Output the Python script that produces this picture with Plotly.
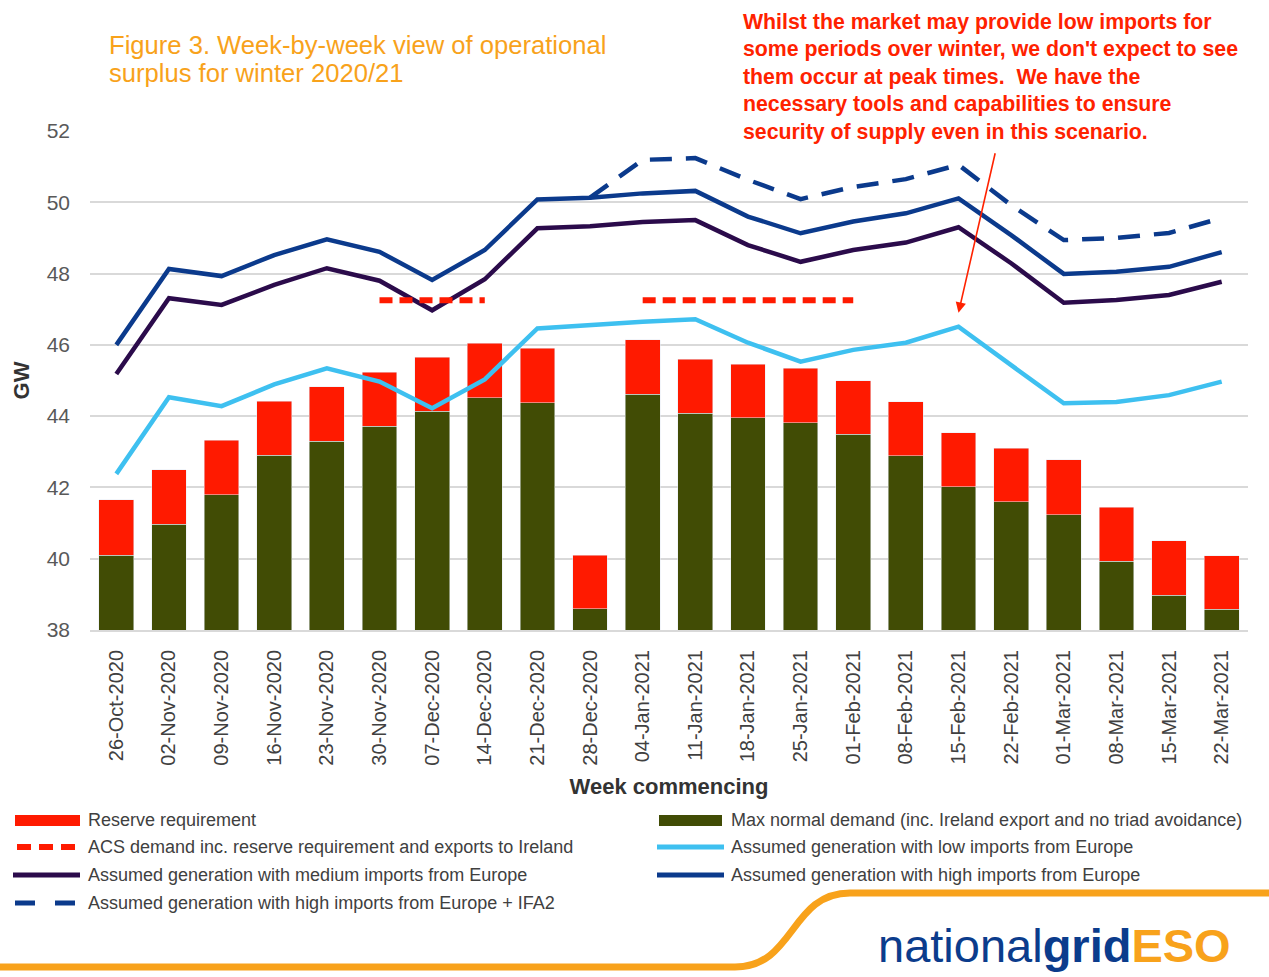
import plotly.graph_objects as go

# ---------------- data ----------------
weeks = ["26-Oct-2020", "02-Nov-2020", "09-Nov-2020", "16-Nov-2020", "23-Nov-2020",
         "30-Nov-2020", "07-Dec-2020", "14-Dec-2020", "21-Dec-2020", "28-Dec-2020",
         "04-Jan-2021", "11-Jan-2021", "18-Jan-2021", "25-Jan-2021", "01-Feb-2021",
         "08-Feb-2021", "15-Feb-2021", "22-Feb-2021", "01-Mar-2021", "08-Mar-2021",
         "15-Mar-2021", "22-Mar-2021"]

max_normal_demand = [40.10, 40.97, 41.80, 42.90, 43.30, 43.72, 44.14, 44.52, 44.38, 38.59,
                     44.61, 44.08, 43.96, 43.82, 43.49, 42.89, 42.02, 41.60, 41.24, 39.93,
                     38.98, 38.58]
reserve_requirement = [1.55, 1.52, 1.53, 1.52, 1.53, 1.51, 1.51, 1.52, 1.52, 1.51,
                       1.53, 1.51, 1.49, 1.52, 1.50, 1.52, 1.52, 1.50, 1.53, 1.51,
                       1.52, 1.50]
acs_demand = [None, None, None, None, None, 47.25, 47.25, 47.25, None, None,
              47.25, 47.25, 47.25, 47.25, 47.25, None, None, None, None, None,
              None, None]
gen_low = [42.38, 44.53, 44.28, 44.89, 45.34, 44.97, 44.22, 45.03, 46.46, 46.56,
           46.65, 46.72, 46.06, 45.53, 45.86, 46.06, 46.51, 45.43, 44.36, 44.40,
           44.59, 44.97]
gen_medium = [45.18, 47.31, 47.12, 47.68, 48.15, 47.80, 46.97, 47.84, 49.27, 49.33,
              49.45, 49.50, 48.80, 48.33, 48.66, 48.87, 49.30, 48.29, 47.18, 47.26,
              47.40, 47.77]
gen_high = [46.00, 48.13, 47.93, 48.52, 48.96, 48.61, 47.82, 48.66, 50.08, 50.13,
            50.25, 50.32, 49.60, 49.13, 49.46, 49.69, 50.11, 49.08, 47.99, 48.05,
            48.19, 48.60]
gen_high_ifa2 = [None, None, None, None, None, None, None, None, None, 50.13,
                 51.19, 51.24, 50.63, 50.09, 50.43, 50.65, 51.05, 49.92, 48.94, 49.00,
                 49.14, 49.56]

y_ticks = [38, 40, 42, 44, 46, 48, 50, 52]

# ---------------- styles ----------------
FONT = "Liberation Sans, Arial, sans-serif"
C_RED = "#FF1A00"
C_GREEN = "#414C05"
C_LOW = "#3EC0F0"
C_MED = "#2B0B4B"
C_HIGH = "#0B3A8C"
C_ORANGE = "#F8A21B"
C_TEXT = "#404040"

W, H = 1269, 977
ML, MR, MT, MB = 90, 21, 131, 347
PW, PH = W - ML - MR, H - MT - MB


def px(X):
    return (X - ML) / PW


def py(Y):
    return (H - MB - Y) / PH


fig = go.Figure()

fig.add_trace(go.Bar(x=weeks, y=max_normal_demand, marker_color=C_GREEN,
                     name="Max normal demand (inc. Ireland export and no triad avoidance)",
                     showlegend=False))
fig.add_trace(go.Bar(x=weeks, y=reserve_requirement, marker_color=C_RED,
                     name="Reserve requirement", showlegend=False))
fig.add_trace(go.Scatter(x=weeks, y=gen_low, mode="lines",
                         line=dict(color=C_LOW, width=4.5),
                         name="Assumed generation with low imports from Europe", showlegend=False))
fig.add_trace(go.Scatter(x=weeks, y=gen_medium, mode="lines",
                         line=dict(color=C_MED, width=4.5),
                         name="Assumed generation with medium imports from Europe", showlegend=False))
fig.add_trace(go.Scatter(x=weeks, y=gen_high, mode="lines",
                         line=dict(color=C_HIGH, width=4.5),
                         name="Assumed generation with high imports from Europe", showlegend=False))
fig.add_trace(go.Scatter(x=weeks, y=gen_high_ifa2, mode="lines",
                         line=dict(color=C_HIGH, width=4.5, dash="22px,14px"),
                         name="Assumed generation with high imports from Europe + IFA2",
                         showlegend=False))
fig.add_trace(go.Scatter(x=weeks, y=acs_demand, mode="lines",
                         line=dict(color=C_RED, width=6, dash="13px,7px"),
                         name="ACS demand inc. reserve requirement and exports to Ireland",
                         showlegend=False))

fig.update_layout(
    width=W, height=H,
    margin=dict(l=ML, r=MR, t=MT, b=MB, pad=0),
    paper_bgcolor="white", plot_bgcolor="white",
    barmode="stack", bargap=0.34,
    font=dict(family=FONT, color=C_TEXT),
    showlegend=False,
)

fig.update_xaxes(
    type="category", tickangle=-90,
    tickfont=dict(size=20, color=C_TEXT, family=FONT),
    showgrid=False, showline=True, linecolor="#D9D9D9", linewidth=2,
    ticks="", ticklabelstandoff=10,
    title=dict(text="<b>Week commencing</b>", font=dict(size=22, color="#333333", family=FONT),
               standoff=14),
)
fig.update_yaxes(
    range=[38, 52], tickvals=y_ticks,
    tickfont=dict(size=21, color="#595959", family=FONT),
    showgrid=True, gridcolor="#D9D9D9", gridwidth=2,
    zeroline=False, ticks="", ticklabelstandoff=19,
    title=dict(text="<b>GW</b>", font=dict(size=22, color="#333333", family=FONT), standoff=10),
)

annotations = []
# Title
for txt, Y in [("Figure 3. Week-by-week view of operational", 45),
               ("surplus for winter 2020/21", 73)]:
    annotations.append(dict(text=txt, xref="paper", yref="paper", x=px(107), y=py(Y),
                            xanchor="left", yanchor="middle", showarrow=False,
                            font=dict(size=25.6, color=C_ORANGE, family=FONT)))
# Red comment
comment = ["Whilst the market may provide low imports for",
           "some periods over winter, we don't expect to see",
           "them occur at peak times.  We have the",
           "necessary tools and capabilities to ensure",
           "security of supply even in this scenario."]
for i, txt in enumerate(comment):
    annotations.append(dict(text="<b>" + txt.replace("  ", "&nbsp; ") + "</b>", xref="paper", yref="paper",
                            x=px(741), y=py(22 + i * 27.4),
                            xanchor="left", yanchor="middle", showarrow=False,
                            font=dict(size=21.3, color="#FF2200", family=FONT)))
# Arrow to the low-imports peak
annotations.append(dict(text="", x=weeks[16], y=46.9, xref="x", yref="y",
                        ax=37, ay=-161, showarrow=True, arrowhead=2, arrowsize=1.3,
                        arrowwidth=1.6, arrowcolor="#FF2200"))

# Manual legend (two columns)
legend_left = [("Reserve requirement", 820),
               ("ACS demand inc. reserve requirement and exports to Ireland", 847),
               ("Assumed generation with medium imports from Europe", 875),
               ("Assumed generation with high imports from Europe + IFA2", 903)]
legend_right = [("Max normal demand (inc. Ireland export and no triad avoidance)", 820),
                ("Assumed generation with low imports from Europe", 847),
                ("Assumed generation with high imports from Europe", 875)]
for txt, Y in legend_left:
    annotations.append(dict(text=txt, xref="paper", yref="paper", x=px(86), y=py(Y),
                            xanchor="left", yanchor="middle", showarrow=False,
                            font=dict(size=18, color=C_TEXT, family=FONT)))
for txt, Y in legend_right:
    annotations.append(dict(text=txt, xref="paper", yref="paper", x=px(729), y=py(Y),
                            xanchor="left", yanchor="middle", showarrow=False,
                            font=dict(size=18, color=C_TEXT, family=FONT)))

# Logo
annotations.append(dict(
    text=("<span style='color:#0B3C8C'>national<b>grid</b></span>"
          "<b><span style='color:%s'>ESO</span></b>" % C_ORANGE),
    xref="paper", yref="paper", x=px(1233), y=py(945), xanchor="right", yanchor="middle",
    showarrow=False, font=dict(size=47, family=FONT)))

shapes = []
# legend swatches
shapes.append(dict(type="rect", xref="paper", yref="paper", x0=px(15), x1=px(80),
                   y0=py(826), y1=py(815), fillcolor=C_RED, line=dict(width=0)))
shapes.append(dict(type="line", xref="paper", yref="paper", x0=px(17), x1=px(80),
                   y0=py(847), y1=py(847), line=dict(color=C_RED, width=6, dash="14px,8px")))
shapes.append(dict(type="line", xref="paper", yref="paper", x0=px(13), x1=px(80),
                   y0=py(875), y1=py(875), line=dict(color=C_MED, width=5)))
shapes.append(dict(type="line", xref="paper", yref="paper", x0=px(15), x1=px(80),
                   y0=py(903), y1=py(903), line=dict(color=C_HIGH, width=5, dash="20px,20px")))
shapes.append(dict(type="rect", xref="paper", yref="paper", x0=px(659), x1=px(722),
                   y0=py(826), y1=py(815), fillcolor=C_GREEN, line=dict(width=0)))
shapes.append(dict(type="line", xref="paper", yref="paper", x0=px(657), x1=px(724),
                   y0=py(847), y1=py(847), line=dict(color=C_LOW, width=5)))
shapes.append(dict(type="line", xref="paper", yref="paper", x0=px(657), x1=px(724),
                   y0=py(875), y1=py(875), line=dict(color=C_HIGH, width=5)))

# orange brand curve
path = ("M %.4f,%.4f L %.4f,%.4f C %.4f,%.4f %.4f,%.4f %.4f,%.4f L %.4f,%.4f" % (
    px(-10), py(967), px(735), py(967),
    px(795), py(967), px(790), py(893), px(850), py(893),
    px(1280), py(893)))
shapes.append(dict(type="path", xref="paper", yref="paper", path=path,
                   line=dict(color=C_ORANGE, width=7)))

fig.update_layout(annotations=annotations, shapes=shapes)

fig.write_html("out.html")
